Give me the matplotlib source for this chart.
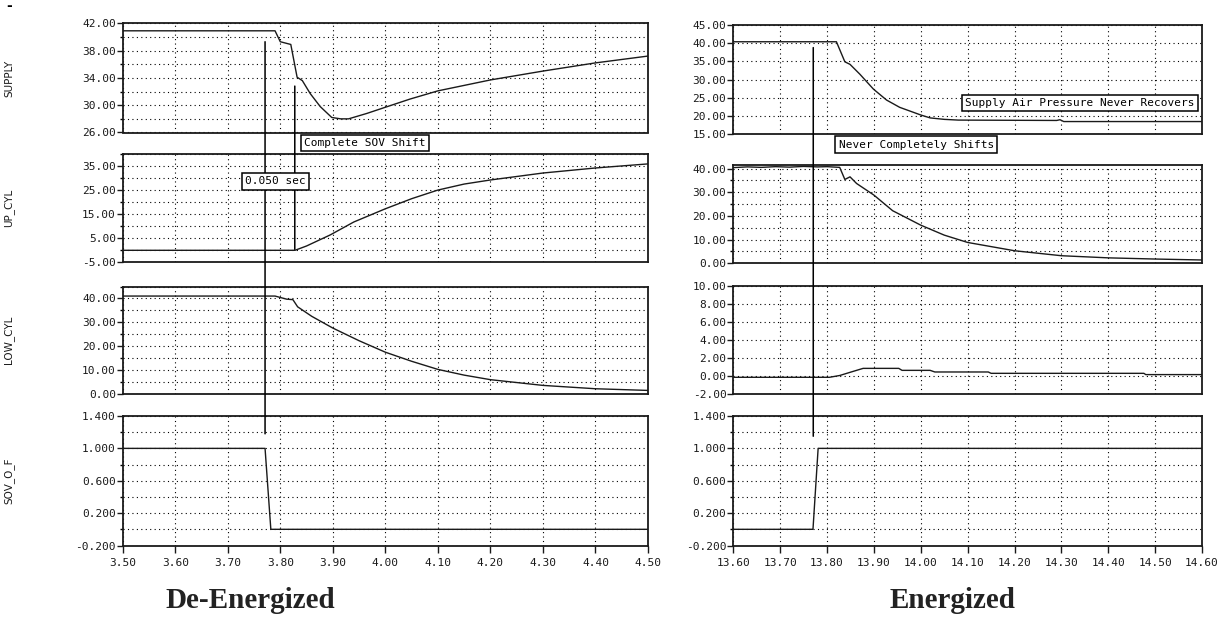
import matplotlib
matplotlib.use('Agg')
import numpy as np
import matplotlib.pyplot as plt
from matplotlib.patches import ConnectionPatch
from matplotlib.ticker import FormatStrFormatter, MultipleLocator

# ---- data ----
# De-Energized (left)
sup_l_t = [3.50, 3.79, 3.80, 3.82, 3.832, 3.842, 3.857, 3.876, 3.898, 3.915, 3.93, 3.965, 4.00, 4.047, 4.10, 4.20, 4.30, 4.40, 4.50]
sup_l = [40.9, 40.9, 39.3, 38.9, 34.1, 33.6, 31.7, 29.8, 28.2, 28.0, 28.0, 28.8, 29.7, 30.9, 32.1, 33.7, 35.0, 36.2, 37.2]
up_l_t = [3.50, 3.828, 3.85, 3.895, 3.94, 4.00, 4.05, 4.10, 4.15, 4.20, 4.30, 4.40, 4.50]
up_l = [0.0, 0.0, 1.8, 6.4, 11.8, 17.3, 21.5, 25.1, 27.6, 29.3, 32.2, 34.3, 36.0]
low_l_t = [3.50, 3.79, 3.812, 3.824, 3.833, 3.86, 3.90, 3.95, 4.00, 4.05, 4.10, 4.15, 4.20, 4.30, 4.40, 4.50]
low_l = [41.0, 41.0, 39.7, 39.5, 36.5, 32.5, 27.6, 22.3, 17.5, 13.7, 10.3, 7.9, 6.0, 3.6, 2.2, 1.5]
sov_l_t = [3.50, 3.771, 3.782, 4.50]
sov_l = [1.0, 1.0, 0.0, 0.0]

# Energized (right)
sup_r_t = [13.60, 13.82, 13.838, 13.849, 13.87, 13.899, 13.927, 13.955, 14.00, 14.02, 14.05, 14.08, 14.29, 14.297, 14.305, 14.60]
sup_r = [40.4, 40.4, 34.9, 34.2, 31.5, 27.4, 24.4, 22.4, 20.3, 19.5, 19.1, 18.9, 18.8, 19.0, 18.5, 18.5]
up_r_t = [13.60, 13.63, 13.66, 13.69, 13.72, 13.75, 13.78, 13.80, 13.827, 13.838, 13.849, 13.863, 13.90, 13.94,
          14.00, 14.05, 14.10, 14.20, 14.30, 14.40, 14.50, 14.60]
up_r = [40.4, 40.7, 40.5, 40.8, 40.6, 40.9, 40.7, 40.8, 40.5, 35.4, 36.5, 33.7, 28.8, 22.2,
        16.1, 11.9, 8.8, 5.3, 3.2, 2.3, 1.8, 1.4]
low_r_t = [13.60, 13.805, 13.827, 13.849, 13.877, 13.953, 13.96, 14.02, 14.03, 14.144, 14.15, 14.476, 14.48, 14.60]
low_r = [-0.15, -0.15, 0.05, 0.4, 0.84, 0.84, 0.62, 0.62, 0.44, 0.44, 0.29, 0.29, 0.15, 0.15]
sov_r_t = [13.60, 13.770, 13.781, 14.60]
sov_r = [0.0, 0.0, 1.0, 1.0]

names = ['SUPPLY', 'UP_CYL', 'LOW_CYL', 'SOV_O_F']

W, H = 1225, 623
fig = plt.figure(figsize=(W / 100, H / 100), dpi=100)

mono = 'DejaVu Sans Mono'
ink = '#1a1a1a'


def make_axes(x0, x1, top, bot):
    return fig.add_axes([x0 / W, 1 - bot / H, (x1 - x0) / W, (bot - top) / H])


def style(ax, xlim, ylim, major, minor, fmt, bottom):
    ax.set_xlim(*xlim)
    ax.xaxis.set_major_locator(MultipleLocator(0.1))
    ax.set_yticks(np.arange(ylim[0], ylim[1] + 1e-6, major))
    ax.set_yticks(np.arange(ylim[0], ylim[1] + 1e-6, minor), minor=True)
    ax.set_ylim(*ylim)
    ax.yaxis.set_major_formatter(FormatStrFormatter(fmt))
    ax.xaxis.set_major_formatter(FormatStrFormatter('%.2f'))
    for s in ax.spines.values():
        s.set_linewidth(1.3)
        s.set_color(ink)
    ax.grid(True, which='both', axis='y', color='black', lw=0.8, ls=(0, (1, 3)))
    ax.grid(True, which='major', axis='x', color='black', lw=0.8, ls=(0, (1, 3)))
    ax.tick_params(axis='y', which='major', direction='out', length=4, width=1,
                   labelsize=8, pad=1, colors=ink)
    ax.tick_params(axis='y', which='minor', direction='out', length=2, width=1)
    ax.tick_params(axis='x', direction='out', length=5, width=1, labelsize=8, pad=4,
                   colors=ink, bottom=bottom, labelbottom=bottom)
    for lab in ax.get_xticklabels() + ax.get_yticklabels():
        lab.set_family(mono)


left_rows = [(23.3, 132.5), (154.3, 262.3), (286.5, 394), (416, 545.5)]
right_rows = [(25, 134.3), (165, 263.3), (285.7, 394), (416, 545.5)]

left_specs = [((26, 42), 4, 2, '%.2f'), ((-5, 40), 10, 5, '%.2f'),
              ((0, 45), 10, 5, '%.2f'), ((-0.2, 1.4), 0.4, 0.2, '%.3f')]
right_specs = [((15, 45), 5, 5, '%.2f'), ((0, 41.5), 10, 5, '%.2f'),
               ((-2, 10), 2, 2, '%.2f'), ((-0.2, 1.4), 0.4, 0.2, '%.3f')]

left_data = [(sup_l_t, sup_l), (up_l_t, up_l), (low_l_t, low_l), (sov_l_t, sov_l)]
right_data = [(sup_r_t, sup_r), (up_r_t, up_r), (low_r_t, low_r), (sov_r_t, sov_r)]

axL, axR = [], []
for i in range(4):
    ax = make_axes(122.7, 648, *left_rows[i])
    ylim, mj, mn, fmt = left_specs[i]
    style(ax, (3.50, 4.50), ylim, mj, mn, fmt, i == 3)
    ax.plot(*left_data[i], color=ink, lw=1.0)
    ax.set_ylabel(names[i], fontsize=7.5, color=ink)
    ax.yaxis.set_label_coords((14 - 122.7) / (648 - 122.7), 0.5)
    axL.append(ax)

    ax = make_axes(733.3, 1202, *right_rows[i])
    ylim, mj, mn, fmt = right_specs[i]
    style(ax, (13.60, 14.60), ylim, mj, mn, fmt, i == 3)
    ax.plot(*right_data[i], color=ink, lw=1.0)
    axR.append(ax)


# marker lines
def vline(axA, axB, t, yA, yB):
    con = ConnectionPatch(xyA=(t, yA), coordsA=axA.transData, xyB=(t, yB), coordsB=axB.transData,
                          color='black', lw=1.1, zorder=3)
    fig.add_artist(con)


vline(axL[0], axL[3], 3.771, 39.3, 1.18)
vline(axL[0], axL[1], 3.8276, 32.8, 0.4)
vline(axR[0], axR[3], 13.7706, 38.8, 1.15)

box = dict(boxstyle='square,pad=0.3', fc='white', ec='black', lw=1.1)
fig.text(3.845, 24.45, 'Complete SOV Shift', transform=axL[0].transData, family=mono,
         fontsize=8, va='center', ha='left', bbox=box, zorder=5)
fig.text(3.733, 28.8, '0.050 sec', transform=axL[1].transData, family=mono,
         fontsize=8, va='center', ha='left', bbox=box, zorder=5)
fig.text(14.095, 23.6, 'Supply Air Pressure Never Recovers', transform=axR[0].transData,
         family=mono, fontsize=8, va='center', ha='left', bbox=box, zorder=5)
fig.text(13.825, 12.2, 'Never Completely Shifts', transform=axR[0].transData, family=mono,
         fontsize=8, va='center', ha='left', bbox=box, zorder=5)

fig.text(250 / W, 1 - 600 / H, 'De-Energized', family='Liberation Serif', weight='bold',
         fontsize=21, ha='center', va='center', color='#222222')
fig.text(952 / W, 1 - 600 / H, 'Energized', family='Liberation Serif', weight='bold',
         fontsize=21, ha='center', va='center', color='#222222')
fig.text(9 / W, 1 - 6 / H, '-', fontsize=10, weight='bold', ha='center', va='center')

fig.savefig('out.png', dpi=100)
